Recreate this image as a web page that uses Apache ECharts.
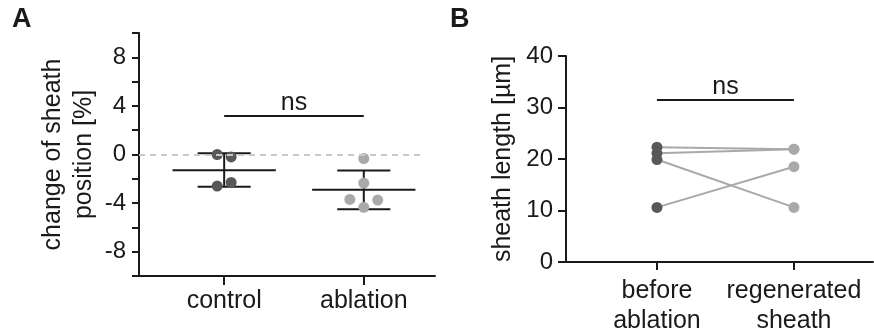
<!DOCTYPE html>
<html>
<head>
<meta charset="utf-8">
<script src="https://cdn.jsdelivr.net/npm/echarts@6/dist/echarts.min.js"></script>
<style>
  html, body { margin: 0; padding: 0; background: #fff; }
  #chart { width: 874px; height: 336px; }
</style>
</head>
<body>
<div id="chart"></div>
<script>
// panel A: change of sheath position
const groupsA = ["control", "ablation"];
const controlVals = [0.0, -0.2, -2.6, -2.3];
const controlOffsets = [-0.05, 0.05, -0.05, 0.05];
const ablationVals = [-0.33, -2.35, -3.7, -3.75, -4.35];
const ablationOffsets = [0, 0, -0.1, 0.1, 0];
// mean, lower, upper
const summaryA = [
  [1, -1.3, -2.65, 0.1],
  [2, -2.9, -4.5, -1.32],
];
const nsLevelA = 3.23;
const yTicksA = [-8, -4, 0, 4, 8];

// panel B: sheath length before / after
const groupsB = ["before\nablation", "regenerated\nsheath"];
const beforeVals = [22.3, 21.1, 19.9, 10.6];
const afterVals = [21.9, 21.9, 10.6, 18.5];
const nsLevelB = 31.5;

const font = "Liberation Sans, Arial, sans-serif";
const ink = "#1a1a1a";
const dark = "#585858";
const light = "#a9a9a9";

const chart = echarts.init(document.getElementById("chart"));

const axisBase = {
  axisLine: { show: true, onZero: false, lineStyle: { color: ink, width: 2 } },
  splitLine: { show: false },
};

const nsLabel = { show: true, position: "middle", formatter: "ns", fontSize: 25, color: ink, distance: 0, fontFamily: font };

const option = {
  animation: false,
  textStyle: { fontFamily: font },
  graphic: [
    { type: "text", left: 12, top: 6, style: { text: "A", font: "bold 27px " + font, fill: ink } },
    { type: "text", left: 450, top: 6, style: { text: "B", font: "bold 27px " + font, fill: ink } },
  ],
  grid: [
    { left: 139, top: 33, width: 296, height: 243 },
    { left: 566, top: 56, width: 307, height: 212 },
  ],
  xAxis: [
    {
      ...axisBase,
      gridIndex: 0,
      type: "value",
      min: 0.39,
      max: 2.51,
      axisTick: { show: true, inside: false, length: 9, customValues: [1, 2], lineStyle: { color: ink, width: 2 } },
      axisLabel: {
        customValues: [1, 2],
        formatter: (v) => groupsA[Math.round(v) - 1],
        fontSize: 25, color: ink, margin: 13, fontFamily: font,
      },
    },
    {
      ...axisBase,
      gridIndex: 1,
      type: "value",
      min: 0.336,
      max: 2.577,
      axisTick: { show: true, length: 8, customValues: [1, 2], lineStyle: { color: ink, width: 2 } },
      axisLabel: {
        customValues: [1, 2],
        formatter: (v) => groupsB[Math.round(v) - 1],
        fontSize: 25, color: ink, margin: 14, lineHeight: 30, fontFamily: font,
      },
    },
  ],
  yAxis: [
    {
      ...axisBase,
      gridIndex: 0,
      type: "value",
      min: -10,
      max: 10,
      interval: 2,
      name: "change of sheath\nposition [%]",
      nameLocation: "middle",
      nameRotate: 90,
      nameGap: 39,
      nameTextStyle: { fontSize: 25, color: ink, lineHeight: 31, fontFamily: font },
      axisTick: { show: true, length: 7, lineStyle: { color: ink, width: 2 } },
      axisLabel: {
        fontSize: 24, color: ink, margin: 13, fontFamily: font,
        formatter: (v) => (yTicksA.includes(v) ? String(v) : ""),
      },
    },
    {
      ...axisBase,
      gridIndex: 1,
      type: "value",
      min: 0,
      max: 40,
      interval: 10,
      name: "sheath length [µm]",
      nameLocation: "middle",
      nameRotate: 90,
      nameGap: 50,
      nameTextStyle: { fontSize: 25, color: ink, fontFamily: font },
      axisTick: { show: true, length: 8, lineStyle: { color: ink, width: 2 } },
      axisLabel: { fontSize: 24, color: ink, margin: 13, fontFamily: font },
    },
  ],
  series: [
    // zero reference line + ns bar for panel A
    {
      type: "line",
      xAxisIndex: 0,
      yAxisIndex: 0,
      data: [],
      silent: true,
      markLine: {
        symbol: "none",
        silent: true,
        data: [
          [
            { coord: [0.39, 0], lineStyle: { color: "#c8c8c8", type: [6, 5], width: 2 }, label: { show: false } },
            { coord: [2.41, 0] },
          ],
          [
            { coord: [1, nsLevelA], lineStyle: { color: ink, type: "solid", width: 2 }, label: nsLabel },
            { coord: [2, nsLevelA] },
          ],
        ],
      },
    },
    {
      type: "custom",
      xAxisIndex: 0,
      yAxisIndex: 0,
      data: summaryA,
      z: 2,
      renderItem: (params, api) => {
        const x = api.value(0);
        const mean = api.value(1);
        const lo = api.value(2);
        const hi = api.value(3);
        const mHalf = 0.37;
        const cHalf = 0.19;
        const seg = (x1, y1, x2, y2) => {
          const a = api.coord([x1, y1]);
          const b = api.coord([x2, y2]);
          return { type: "line", shape: { x1: a[0], y1: a[1], x2: b[0], y2: b[1] }, style: { stroke: ink, lineWidth: 2 } };
        };
        return {
          type: "group",
          children: [
            seg(x - mHalf, mean, x + mHalf, mean),
            seg(x - cHalf, hi, x + cHalf, hi),
            seg(x - cHalf, lo, x + cHalf, lo),
            seg(x, lo, x, hi),
          ],
        };
      },
    },
    {
      type: "scatter",
      xAxisIndex: 0,
      yAxisIndex: 0,
      symbolSize: 11,
      z: 3,
      itemStyle: { color: dark, opacity: 1 },
      data: controlVals.map((v, i) => [1 + controlOffsets[i], v]),
    },
    {
      type: "scatter",
      xAxisIndex: 0,
      yAxisIndex: 0,
      symbolSize: 11,
      z: 3,
      itemStyle: { color: light, opacity: 1 },
      data: ablationVals.map((v, i) => [2 + ablationOffsets[i], v]),
    },
    // panel B paired lines
    ...beforeVals.map((v, i) => ({
      type: "line",
      xAxisIndex: 1,
      yAxisIndex: 1,
      showSymbol: false,
      symbol: "none",
      z: 2,
      lineStyle: { color: light, width: 2 },
      data: [[1, v], [2, afterVals[i]]],
    })),
    {
      type: "line",
      xAxisIndex: 1,
      yAxisIndex: 1,
      data: [],
      markLine: {
        symbol: "none",
        silent: true,
        data: [
          [
            { coord: [1, nsLevelB], lineStyle: { color: ink, type: "solid", width: 2 }, label: nsLabel },
            { coord: [2, nsLevelB] },
          ],
        ],
      },
    },
    {
      type: "scatter",
      xAxisIndex: 1,
      yAxisIndex: 1,
      symbolSize: 11,
      z: 3,
      itemStyle: { color: dark, opacity: 1 },
      data: beforeVals.map((v) => [1, v]),
    },
    {
      type: "scatter",
      xAxisIndex: 1,
      yAxisIndex: 1,
      symbolSize: 11,
      z: 3,
      itemStyle: { color: light, opacity: 1 },
      data: afterVals.map((v) => [2, v]),
    },
  ],
};

chart.setOption(option);
</script>
</body>
</html>
